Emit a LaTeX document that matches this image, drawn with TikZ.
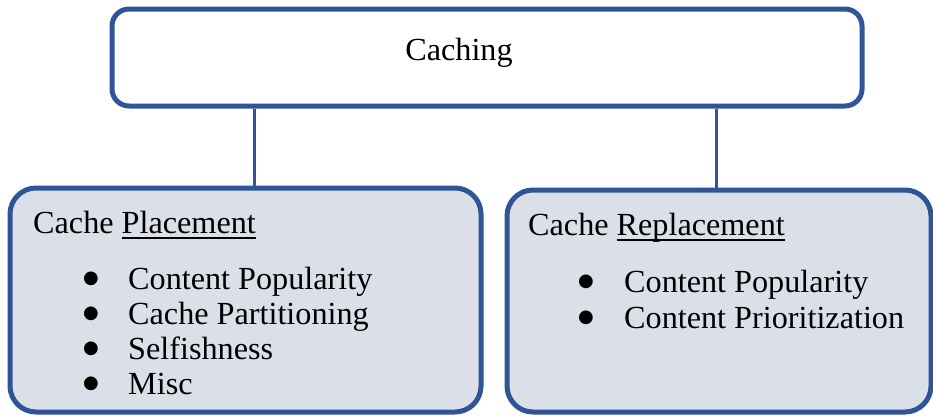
\documentclass[tikz,border=0pt]{standalone}
\usepackage{fontspec}
\setmainfont{Liberation Serif}
\newfontfamily\symfont{DejaVu Sans}
\usetikzlibrary{positioning}
\definecolor{boxblue}{HTML}{2F5597}
\definecolor{boxfill}{HTML}{DADFE8}
\newcommand{\undertext}[1]{\setbox0\hbox{#1}\rlap{\rule[-5.5pt]{\wd0}{1.8pt}}#1}

\begin{document}
\begin{tikzpicture}[x=1pt, y=-1pt, font=\fontsize{32.2}{38}\selectfont,
    topbox/.style={draw=boxblue, line width=5pt, rounded corners=17pt, fill=white},
    catbox/.style={draw=boxblue, line width=5pt, rounded corners=26pt, fill=boxfill},
    link/.style={draw=boxblue, line width=3pt},
    txt/.style={anchor=base west, inner sep=0pt},
    dot/.style={anchor=base, inner sep=0pt, font=\symfont\fontsize{18}{18}\selectfont}]
   \useasboundingbox (0,0) rectangle (933,415);

   \node[topbox, minimum width=750pt, minimum height=97pt] (caching) at (487,57.5) {};
   \node[catbox, minimum width=471pt, minimum height=224pt] (placement) at (245.5,300) {};
   \node[catbox, minimum width=424pt, minimum height=222pt] (replacement) at (719,301) {};

   \node[txt, anchor=base] (cachingtext) at (459,60) {Caching};

   \coordinate (p) at (254,0);
   \coordinate (r) at (716,0);
   \draw[link] (caching.south -| p) -- (placement.north -| p);
   \draw[link] (caching.south -| r) -- (replacement.north -| r);

   % left box
   \node[txt] (placetitle) at (33,233) {Cache \undertext{Placement}};
   \foreach \item [count=\i] in {Content Popularity, Cache Partitioning, Selfishness, Misc} {
      \node[dot] (pbullet\i) at (91,{248+35*\i}) {●};
      \node[txt] (pitem\i) at (128,{254+35*\i}) {\item};
   }

   % right box
   \node[txt] (repltitle) at (528,235) {Cache \undertext{Replacement}};
   \foreach \item [count=\i] in {Content Popularity, Content Prioritization} {
      \node[dot] (rbullet\i) at (586,{250+36*\i}) {●};
      \node[txt] (ritem\i) at (624,{256+36*\i}) {\item};
   }
\end{tikzpicture}
\end{document}
